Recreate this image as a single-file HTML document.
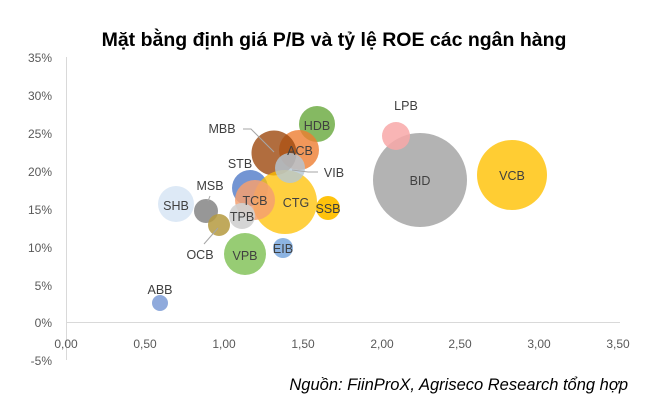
<!DOCTYPE html>
<html><head><meta charset="utf-8"><style>
body{margin:0;background:#fff}
svg{display:block;font-family:"Liberation Sans",sans-serif}
</style></head><body>
<svg width="672" height="406" viewBox="0 0 672 406">
<text x="334" y="46" text-anchor="middle" font-size="19.5" font-weight="bold" fill="#000">Mặt bằng định giá P/B và tỷ lệ ROE các ngân hàng</text>
<g font-size="12" fill="#595959" text-anchor="end">
<text x="52" y="62">35%</text><text x="52" y="100">30%</text><text x="52" y="138">25%</text>
<text x="52" y="176">20%</text><text x="52" y="214">15%</text><text x="52" y="252">10%</text>
<text x="52" y="290">5%</text><text x="52" y="327">0%</text><text x="52" y="365">-5%</text>
</g>
<line x1="66.5" y1="57" x2="66.5" y2="360" stroke="#d9d9d9"/>
<line x1="66" y1="322.5" x2="620" y2="322.5" stroke="#d9d9d9"/>
<g font-size="12" fill="#595959" text-anchor="middle">
<text x="66" y="348">0,00</text><text x="145" y="348">0,50</text><text x="224" y="348">1,00</text>
<text x="303" y="348">1,50</text><text x="382" y="348">2,00</text><text x="460" y="348">2,50</text>
<text x="539" y="348">3,00</text><text x="618" y="348">3,50</text>
</g>
<g>
<circle cx="420" cy="180" r="47" fill="#a6a6a6" opacity="0.85"/>
<circle cx="512" cy="175" r="35" fill="#ffc000" opacity="0.8"/>
<circle cx="396" cy="136" r="14" fill="#f8a8a8" opacity="0.85"/>
<circle cx="160" cy="303" r="8" fill="#8faadc"/>
<circle cx="176" cy="204" r="18" fill="#dde9f6"/>
<circle cx="245" cy="254" r="21" fill="#8cc665" opacity="0.9"/>
<circle cx="283" cy="248" r="10" fill="#8db4e2"/>
<circle cx="317" cy="124" r="18" fill="#70ad47" opacity="0.85"/>
<circle cx="299" cy="150" r="20" fill="#ed7d31" opacity="0.8"/>
<circle cx="274" cy="153" r="22.5" fill="#9e480e" opacity="0.8"/>
<circle cx="250" cy="188" r="18" fill="#4472c4" opacity="0.75"/>
<circle cx="285" cy="202" r="32" fill="#ffc000" opacity="0.75"/>
<circle cx="255" cy="200" r="20" fill="#f4a070" opacity="0.85"/>
<circle cx="290" cy="168" r="15" fill="#b4c7d6" opacity="0.8"/>
<circle cx="328" cy="208" r="12" fill="#ffc000" opacity="0.95"/>
<circle cx="206" cy="211" r="12" fill="#8c8c8c" opacity="0.9"/>
<circle cx="242" cy="216" r="13" fill="#d0d0d0" opacity="0.9"/>
<circle cx="219" cy="225" r="11" fill="#b59a40" opacity="0.85"/>
</g>
<g stroke="#a6a6a6" stroke-width="1" fill="none">
<polyline points="243,129 251,129 274,152"/>
<polyline points="292,170 308,172 318,172"/>
<polyline points="218,228 204,244"/>
<polyline points="210,196 208,201"/>
</g>
<g font-size="12.5" fill="#404040" text-anchor="middle">
<text x="420" y="185">BID</text>
<text x="512" y="180">VCB</text>
<text x="406" y="110">LPB</text>
<text x="160" y="294">ABB</text>
<text x="176" y="210">SHB</text>
<text x="245" y="260">VPB</text>
<text x="283" y="253">EIB</text>
<text x="317" y="130">HDB</text>
<text x="300" y="155">ACB</text>
<text x="222" y="133">MBB</text>
<text x="240" y="168">STB</text>
<text x="296" y="207">CTG</text>
<text x="255" y="205">TCB</text>
<text x="328" y="213">SSB</text>
<text x="210" y="190">MSB</text>
<text x="242" y="221">TPB</text>
<text x="200" y="259">OCB</text>
<text x="334" y="177">VIB</text>
</g>
<text x="628" y="390" text-anchor="end" font-size="16.5" font-style="italic" fill="#000">Nguồn: FiinProX, Agriseco Research tổng hợp</text>
</svg>
</body></html>
